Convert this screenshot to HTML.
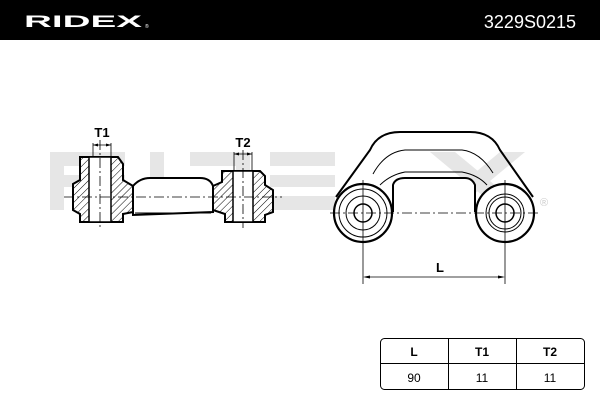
<!DOCTYPE html>
<html><head><style>
body{margin:0;width:600px;height:400px;background:#fff;overflow:hidden;font-family:"Liberation Sans",sans-serif}
</style></head><body>
<svg width="600" height="400" viewBox="0 0 600 400" xmlns="http://www.w3.org/2000/svg">
<defs>
<pattern id="h" width="5" height="5" patternUnits="userSpaceOnUse" patternTransform="rotate(45)">
<rect width="5" height="5" fill="#fff"/><line x1="0" y1="0" x2="0" y2="5" stroke="#000" stroke-width="1"/>
</pattern>
</defs>
<rect x="0" y="0" width="600" height="40" fill="#000"/>
<text x="24" y="27" fill="#fff" font-size="17" font-weight="bold" textLength="118" lengthAdjust="spacingAndGlyphs">RIDEX</text>
<text x="145" y="28" fill="#fff" font-size="5">®</text>
<text x="576" y="28" fill="#fff" font-size="18" text-anchor="end">3229S0215</text>
<!-- watermark -->
<g fill="#e6e6e6">
<rect x="50" y="152" width="75" height="14"/><rect x="50" y="175" width="75" height="12"/><rect x="50" y="166" width="14" height="44"/>
<rect x="150" y="152" width="14" height="58"/>
<rect x="190" y="152" width="60" height="14"/><rect x="190" y="196" width="60" height="14"/><rect x="236" y="152" width="14" height="58"/>
<rect x="270" y="152" width="65" height="14"/><rect x="270" y="175" width="65" height="12"/><rect x="270" y="196" width="65" height="14"/>
<polygon points="430,152 455,152 525,210 500,210"/><polygon points="500,152 525,152 455,210 430,210"/>
</g>
<g stroke="#000" fill="none">
<path d="M133,186 Q140,178 150,178 L200,178 Q210,178 213,186 L213,212 L133,215 Z" fill="#fff" stroke-width="2"/>
<line x1="135" y1="213" x2="211" y2="213" stroke-width="1"/>
<path d="M80,157 L118,157 L123,164 L123,180 L133,186 L133,212 L123,214 L123,222 L80,222 L80,214 L73,210 L73,184 L80,180 Z" fill="url(#h)" stroke-width="2"/>
<rect x="89" y="157" width="22" height="65" fill="#fff" stroke-width="1.5"/>
<path d="M222,171 L260,171 L265,176 L265,185 L273,190 L273,212 L265,215 L265,222 L225,222 L225,214 L213,210 L213,186 L222,182 Z" fill="url(#h)" stroke-width="2"/>
<rect x="233" y="171" width="20" height="51" fill="#fff" stroke-width="1.5"/>
<line x1="64" y1="197" x2="282" y2="197" stroke-width="0.8" stroke-dasharray="10,3,2,3"/>
<line x1="100" y1="140" x2="100" y2="228" stroke-width="0.8" stroke-dasharray="10,3,2,3"/>
<line x1="243" y1="150" x2="243" y2="228" stroke-width="0.8" stroke-dasharray="10,3,2,3"/>
<line x1="93" y1="143" x2="93" y2="157" stroke-width="0.8"/><line x1="111" y1="143" x2="111" y2="157" stroke-width="0.8"/>
<line x1="93" y1="145" x2="111" y2="145" stroke-width="0.8"/>
<line x1="234" y1="152" x2="234" y2="171" stroke-width="0.8"/><line x1="252" y1="152" x2="252" y2="171" stroke-width="0.8"/>
<line x1="234" y1="154" x2="252" y2="154" stroke-width="0.8"/>
<path d="M336,197 L370,150 Q378,132 400,132 L470,132 Q492,132 500,150 L533,197" stroke-width="2"/>
<path d="M373,174 Q385,152 405,150 L462,150 Q480,152 493,173" stroke-width="1"/>
<path d="M380,185 Q390,175 405,172 L462,172 Q478,175 487,185" stroke-width="1"/>
<path d="M393,212 L393,185 Q395,178 405,178 L465,178 Q472,178 475,185 L475,212" fill="#fff" stroke-width="2"/>
<circle cx="363" cy="213" r="29" fill="#fff" stroke-width="2.2"/>
<circle cx="363" cy="213" r="24" stroke-width="1"/>
<circle cx="363" cy="213" r="17" stroke-width="1"/>
<circle cx="363" cy="213" r="9" stroke-width="1.5"/>
<circle cx="505" cy="213" r="29" fill="#fff" stroke-width="2.2"/>
<circle cx="505" cy="213" r="19" stroke-width="1"/>
<circle cx="505" cy="213" r="16" stroke-width="1"/>
<circle cx="505" cy="213" r="9" stroke-width="1.5"/>
<line x1="330" y1="213" x2="538" y2="213" stroke-width="0.8" stroke-dasharray="10,3,2,3"/>
<line x1="363" y1="180" x2="363" y2="284" stroke-width="0.8"/>
<line x1="505" y1="180" x2="505" y2="284" stroke-width="0.8"/>
<line x1="365" y1="277" x2="503" y2="277" stroke-width="0.8"/>
</g>
<g fill="#000">
<polygon points="93,145 98,143.5 98,146.5"/><polygon points="111,145 106,143.5 106,146.5"/>
<polygon points="234,154 239,152.5 239,155.5"/><polygon points="252,154 247,152.5 247,155.5"/>
<polygon points="363,277 370,275.5 370,278.5"/><polygon points="505,277 498,275.5 498,278.5"/>
</g>
<text x="540" y="206" fill="#ccc" font-size="11">®</text>
<g font-size="13" font-weight="bold" text-anchor="middle">
<text x="102" y="137">T1</text><text x="243" y="147">T2</text><text x="440" y="272">L</text>
</g>
<rect x="380.5" y="338.5" width="204" height="51" rx="4" fill="#fff" stroke="#000"/>
<line x1="380" y1="363.5" x2="585" y2="363.5" stroke="#000"/>
<line x1="448.5" y1="338" x2="448.5" y2="390" stroke="#000"/>
<line x1="516.5" y1="338" x2="516.5" y2="390" stroke="#000"/>
<g font-size="12" text-anchor="middle">
<text x="414" y="356" font-weight="bold">L</text><text x="482" y="356" font-weight="bold">T1</text><text x="550" y="356" font-weight="bold">T2</text>
<text x="414" y="382">90</text><text x="482" y="382">11</text><text x="550" y="382">11</text>
</g>
</svg>
</body></html>
